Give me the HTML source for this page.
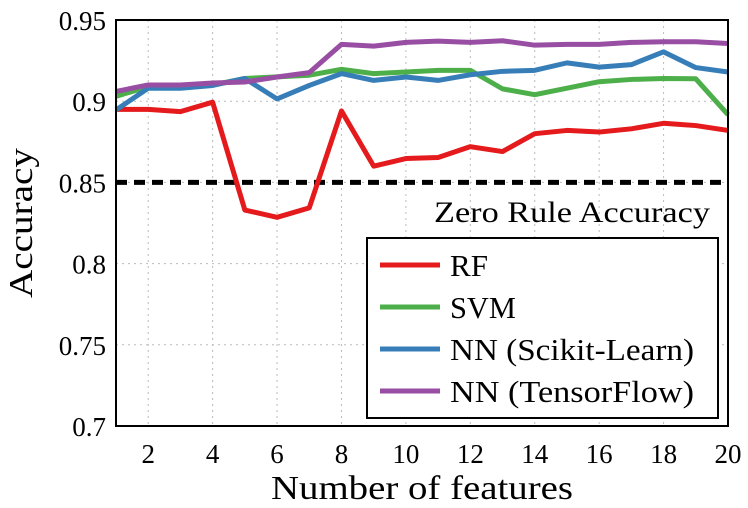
<!DOCTYPE html>
<html><head><meta charset="utf-8"><style>
body{margin:0;background:#fff}
svg{display:block;font-family:"Liberation Serif",serif}
</style></head><body>
<svg id="chart" width="748" height="508" viewBox="0 0 748 508" xmlns="http://www.w3.org/2000/svg">
<g id="grid"></g>
<g id="series"></g>
<g id="axes"></g>
</svg>
<script>
const features = [1,2,3,4,5,6,7,8,9,10,11,12,13,14,15,16,17,18,19,20];
const rf  = [0.895,0.895,0.8936,0.8994,0.833,0.8285,0.8343,0.894,0.860,0.8647,0.8653,0.872,0.869,0.880,0.882,0.881,0.883,0.8864,0.885,0.882];
const svm = [0.903,0.909,0.909,0.910,0.914,0.915,0.916,0.9196,0.917,0.918,0.919,0.919,0.9076,0.904,0.908,0.912,0.9134,0.914,0.9138,0.8917];
const nnsk = [0.8946,0.908,0.908,0.9097,0.914,0.9014,0.9097,0.917,0.9128,0.9149,0.9128,0.9163,0.9184,0.919,0.9236,0.921,0.9225,0.9304,0.9207,0.918];
const nntf = [0.906,0.910,0.910,0.9112,0.9118,0.9149,0.9176,0.935,0.9339,0.9362,0.937,0.9362,0.9372,0.9345,0.935,0.935,0.9362,0.9366,0.9366,0.9355];
const baseline = 0.85;
const xTicks = [2,4,6,8,10,12,14,16,18,20];
const yTicks = [0.7,0.75,0.8,0.85,0.9,0.95];
const yTickLabels = ["0.7","0.75","0.8","0.85","0.9","0.95"];
const seriesNames = ["RF","SVM","NN (Scikit-Learn)","NN (TensorFlow)"];
const seriesColors = ["#e41a1c","#4daf4a","#377eb8","#984ea3"];

const L=116,R=728,T=20,B=426;
const xs=v=>L+(v-1)/(20-1)*(R-L);
const ys=v=>B-(v-0.7)/(0.95-0.7)*(B-T);
const NS="http://www.w3.org/2000/svg";
function mk(tag,attrs,parent,text){const e=document.createElementNS(NS,tag);for(const k in attrs)e.setAttribute(k,attrs[k]);if(text!==undefined)e.textContent=text;parent.appendChild(e);return e;}
const grid=document.getElementById('grid'),ser=document.getElementById('series'),ax=document.getElementById('axes');
xTicks.forEach(t=>{const l=mk('line',{x1:xs(t),x2:xs(t),y1:T,y2:B,stroke:'#bbb','stroke-width':1,'stroke-dasharray':'2,4'},grid);


const tx=mk('text',{x:xs(t),y:B+37,'text-anchor':'middle','font-size':27},ax,String(t));

});
yTicks.forEach((t,i)=>{const l=mk('line',{x1:L,x2:R,y1:ys(t),y2:ys(t),stroke:'#bbb','stroke-width':1,'stroke-dasharray':'2,4'},grid);


const tx=mk('text',{x:L-10,y:ys(t)+10,'text-anchor':'end','font-size':27},ax,yTickLabels[i]);

});
const bl=mk('line',{x1:L,x2:R,y1:ys(baseline),y2:ys(baseline),stroke:'#000','stroke-width':5,'stroke-dasharray':'11,7'},ser);


const zt=mk('text',{x:710,y:222,'text-anchor':'end','font-size':30,textLength:276,lengthAdjust:'spacingAndGlyphs'},ser,'Zero Rule Accuracy');


[rf,svm,nnsk,nntf].forEach((d,i)=>{const p=mk('polyline',{points:features.map((f,j)=>xs(f)+','+ys(d[j])).join(' '),fill:'none',stroke:seriesColors[i],'stroke-width':5,'stroke-linejoin':'round'},ser);

});
const fr=mk('rect',{x:L,y:T,width:R-L,height:B-T,fill:'none',stroke:'#000','stroke-width':2},ax);


const lg=mk('g',{},ax);


mk('rect',{x:367,y:238,width:351,height:180,fill:'#fff',stroke:'#000','stroke-width':2},lg);
const lw=[38,66,244,244];
seriesNames.forEach((n,i)=>{const y=265+i*42;
const e=mk('g',{},lg);


mk('line',{x1:380,x2:440,y1:y,y2:y,stroke:seriesColors[i],'stroke-width':5},e);
mk('text',{x:450,y:y+11,'font-size':31,textLength:lw[i],lengthAdjust:'spacingAndGlyphs'},e,n);});
const xt=mk('text',{x:422,y:499,'text-anchor':'middle','font-size':34,textLength:302,lengthAdjust:'spacingAndGlyphs'},ax,'Number of features');


const yt=mk('text',{x:0,y:0,'text-anchor':'middle','font-size':34,textLength:150,lengthAdjust:'spacingAndGlyphs',transform:'translate(32,223) rotate(-90)'},ax,'Accuracy');


</script>
</body></html>
